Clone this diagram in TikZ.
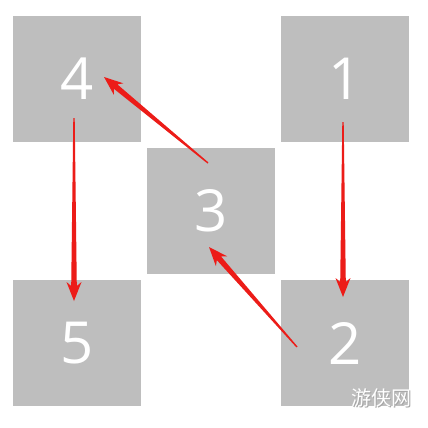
\documentclass[tikz,border=0pt]{standalone}
\usepackage{fontspec}
\setmainfont{Open Sans}
\newfontfamily\cjk{Noto Sans CJK SC}
\usetikzlibrary{calc}
\definecolor{boxgray}{RGB}{190,190,190}
\definecolor{arrred}{RGB}{236,28,24}
\tikzset{
  numbox/.style={fill=boxgray, draw=none, minimum width=128pt, minimum height=126pt,
    inner sep=0pt, text=white, font=\fontsize{58}{58}\selectfont},
  taper/.style={fill=arrred, draw=none},
  wmark/.style={font=\cjk\fontsize{20}{20}\selectfont, inner sep=0pt}
}
% tapered arrow: #1 start, #2 tip
\newcommand\taperarrow[2]{%
  \coordinate (hb) at ($(#2)!19pt!(#1)$);
  \coordinate (hc) at ($(#2)!15pt!(#1)$);
  \fill[taper] ($(#1)!0.7pt!90:(#2)$) -- ($(hc)!2.8pt!-90:(#1)$) -- ($(hb)!7.5pt!-90:(#1)$)
    -- (#2) -- ($(hb)!7.5pt!90:(#1)$) -- ($(hc)!2.8pt!90:(#1)$) -- ($(#1)!0.7pt!-90:(#2)$) -- cycle;
}
\begin{document}
\begin{tikzpicture}[x=1pt,y=-1pt]
\useasboundingbox (0,0) rectangle (428,428);
\fill[white] (0,0) rectangle (428,428);
\node[numbox] (n4) at (77,79) {4};
\node[numbox] (n1) at (345,79) {1};
\node[numbox] (n3) at (211,210.5) {3};
\node[numbox] (n5) at (77,343) {5};
\node[numbox] (n2) at (345,343) {2};
% arrow endpoints
\coordinate (a12s) at ($(n1.center)+(-2,43)$);
\coordinate (a12t) at ($(n2.center)+(-2,-46)$);
\coordinate (a45s) at ($(n4.center)+(-3,39)$);
\coordinate (a45t) at ($(n5.center)+(-3,-42)$);
\coordinate (a23s) at ($(n2.center)+(-48,4)$);
\coordinate (a23t) at ($(n3.center)+(-2,36.5)$);
\coordinate (a34s) at ($(n3.center)+(-3,-47.5)$);
\coordinate (a34t) at ($(n4.center)+(27,-2)$);
\taperarrow{a12s}{a12t}
\taperarrow{a45s}{a45t}
\taperarrow{a23s}{a23t}
\taperarrow{a34s}{a34t}
\node[wmark, text=gray!70] (wms) at (382,399) {游侠网};
\node[wmark, text=white] (wm) at (381,398) {游侠网};
\end{tikzpicture}
\end{document}
